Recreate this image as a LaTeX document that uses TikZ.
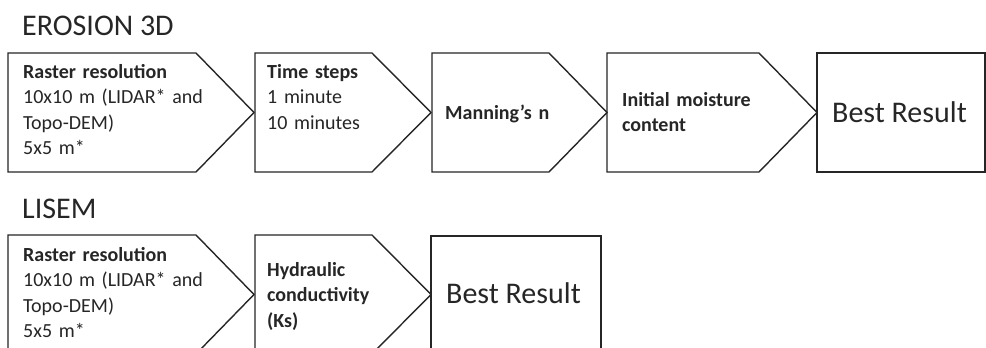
\documentclass[tikz,border=0pt]{standalone}
\usepackage{fontspec}
\setmainfont{Carlito}
\begin{document}
\begin{tikzpicture}[x=1pt,y=-1pt,
  shp/.style={draw=black!85, line width=1.4pt, line join=miter},
  title/.style={anchor=base west, inner sep=0, font=\fontsize{30}{36}\selectfont, text=black!85},
  txt/.style={anchor=base west, inner sep=0, text width=200pt, align=left, font=\fontsize{20}{25.5}\selectfont, text=black!85},
  big/.style={anchor=base west, inner sep=0, font=\fontsize{30}{36}\selectfont, text=black!85}]
\clip (0,0) rectangle (986,348);
\fill[white] (0,0) rectangle (986,348);
% titles
\node[title] (t1) at (22,35) {EROSION 3D};
\node[title] (t2) at (22,218) {LISEM};
% top row shapes
\draw[shp] (8,53) -- (196,53) -- (254,112.5) -- (196,172) -- (8,172) -- cycle;
\draw[shp] (255,53) -- (372,53) -- (431,112.5) -- (372,172) -- (255,172) -- cycle;
\draw[shp] (432,53) -- (549,53) -- (607,112.5) -- (549,172) -- (432,172) -- cycle;
\draw[shp] (607,53) -- (759,53) -- (817,112.5) -- (759,172) -- (607,172) -- cycle;
\draw[shp] (817,53) rectangle (985,172);
% top row texts
\node[txt] (a1) at (23,78) {\textbf{Raster resolution}\\10x10 m (LIDAR* and\\Topo-DEM)\\5x5 m*};
\node[txt] (a2) at (267,78) {\textbf{Time steps}\\1 minute\\10 minutes};
\node[txt] (a3) at (445,119) {\textbf{Manning’s n}};
\node[txt] (a4) at (622,106) {\textbf{Initial moisture}\\\textbf{content}};
\node[big] (a5) at (832,122) {Best Result};
% bottom row shapes
\draw[shp] (8,235) -- (196,235) -- (254,294.5) -- (196,354) -- (8,354) -- cycle;
\draw[shp] (255,235) -- (372,235) -- (431,294.5) -- (372,354) -- (255,354) -- cycle;
\draw[shp] (431,236) rectangle (601,356);
% bottom row texts
\node[txt] (b1) at (23,261) {\textbf{Raster resolution}\\10x10 m (LIDAR* and\\Topo-DEM)\\5x5 m*};
\node[txt] (b2) at (267,276) {\textbf{Hydraulic}\\\textbf{conductivity}\\\textbf{(Ks)}};
\node[big] (b3) at (446,303) {Best Result};
\end{tikzpicture}
\end{document}
